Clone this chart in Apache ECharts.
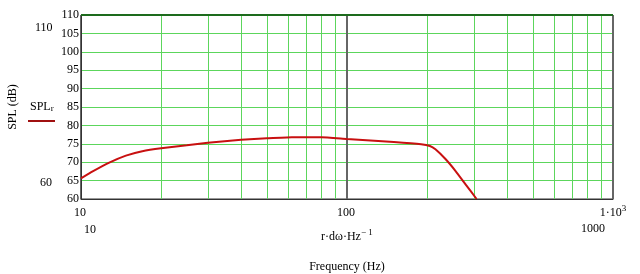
<!DOCTYPE html>
<html>
<head>
<meta charset="utf-8">
<script src="https://cdn.jsdelivr.net/npm/echarts@6/dist/echarts.min.js"></script>
<style>html,body{margin:0;padding:0;background:#fff}#c{width:640px;height:274px}</style>
</head>
<body>
<div id="c"></div>
<script>
// Data
const freqHz = [10, 11.06, 12.77, 14.75, 17, 20, 25, 30, 40, 50, 62, 80, 100, 150, 190, 205, 215, 235, 256, 279, 307];
const splDb  = [65.6, 67.5, 69.9, 71.8, 73.0, 73.8, 74.6, 75.3, 76.1, 76.5, 76.8, 76.8, 76.3, 75.5, 74.9, 74.4, 73.5, 70.8, 67.6, 64.0, 60.0];
const minorGridFreqs = [20, 30, 40, 50, 60, 70, 80, 90, 200, 300, 400, 500, 600, 700, 800, 900];
const yTicks = { min: 60, max: 110, step: 5 };
const xTopLabels = { 10: '{a|10}{s| }', 100: '{a|100}{s| }', 1000: '{a|1·10}{s|3}' };
const seriesName = 'SPL';
const seriesSub = 'r';

const FONT = 'Liberation Serif';
const chart = echarts.init(document.getElementById('c'), null, { renderer: 'canvas' });

const curve = freqHz.map((f, i) => [f, splDb[i]]);

chart.setOption({
  animation: false,
  backgroundColor: '#fff',
  grid: { left: 81, right: 27, top: 15, bottom: 75, containLabel: false, outerBoundsMode: 'none',
          show: true, borderColor: '#333', borderWidth: 1, backgroundColor: 'transparent' },
  xAxis: {
    type: 'log', logBase: 10, min: 10, max: 1000,
    name: 'Frequency (Hz)', nameLocation: 'middle', nameGap: 62,
    nameTextStyle: { fontFamily: FONT, fontSize: 12, color: '#000' },
    axisLine: { show: true, lineStyle: { color: '#333', width: 1 } },
    axisTick: { show: false },
    splitLine: { show: true, lineStyle: { color: '#666', width: 2 } },
    axisLabel: {
      fontFamily: FONT, fontSize: 12, color: '#000', margin: 5,
      formatter: v => xTopLabels[Math.round(v)] || '',
      rich: {
        a: { fontFamily: FONT, fontSize: 12, color: '#000' },
        s: { fontFamily: FONT, fontSize: 9, color: '#000', padding: [0, 0, 9, 0] }
      }
    }
  },
  yAxis: {
    type: 'value', min: yTicks.min, max: yTicks.max, interval: yTicks.step,
    name: 'SPL (dB)', nameLocation: 'middle', nameGap: 62, nameRotate: 90,
    nameTextStyle: { fontFamily: FONT, fontSize: 12, color: '#000' },
    axisLine: { show: true, lineStyle: { color: '#333', width: 1 } },
    axisTick: { show: false },
    splitLine: { show: true, lineStyle: { color: '#5cd65c', width: 1 } },
    axisLabel: { fontFamily: FONT, fontSize: 12, color: '#000', margin: 2 }
  },
  series: [
    {
      type: 'line', name: 'grid', data: [], silent: true,
      markLine: {
        silent: true, symbol: 'none', label: { show: false },
        lineStyle: { color: '#5cd65c', width: 1, type: 'solid' },
        data: minorGridFreqs.map(f => ({ xAxis: f }))
      },
      z: 1
    },
    {
      type: 'line', name: 'top', data: [], silent: true,
      markLine: {
        silent: true, symbol: 'none', label: { show: false },
        lineStyle: { color: '#1d6b1d', width: 2, type: 'solid' },
        data: [{ yAxis: yTicks.max }]
      },
      z: 2
    },
    {
      type: 'line', name: seriesName, data: curve, showSymbol: false,
      smooth: 0.15,
      lineStyle: { color: '#c81010', width: 2 }, clip: true, z: 5
    }
  ],
  graphic: [
    { type: 'text', left: 35, top: 22, style: { text: String(yTicks.max), font: '12px ' + FONT, fill: '#000' } },
    { type: 'text', left: 40, top: 177, style: { text: String(yTicks.min), font: '12px ' + FONT, fill: '#000' } },
    { type: 'text', left: 84, top: 224, style: { text: '10', font: '12px ' + FONT, fill: '#000' } },
    { type: 'text', left: 581, top: 223, style: { text: '1000', font: '12px ' + FONT, fill: '#000' } },
    { type: 'text', left: 321, top: 228, style: {
        text: '{a|r·dω·Hz}{s|− 1}', fill: '#000',
        rich: { a: { fontFamily: FONT, fontSize: 12, fill: '#000' }, s: { fontFamily: FONT, fontSize: 9, fill: '#000', padding: [0, 0, 9, 0] } }
      } },
    { type: 'text', left: 30, top: 101, style: {
        text: '{a|' + seriesName + '}{s|' + seriesSub + '}', fill: '#000',
        rich: { a: { fontFamily: FONT, fontSize: 12, fill: '#000' }, s: { fontFamily: FONT, fontSize: 9, fill: '#000', padding: [4, 0, 0, 0] } }
      } },
    { type: 'line', shape: { x1: 28, y1: 121, x2: 55, y2: 121 }, style: { stroke: '#a01010', lineWidth: 2 } }
  ]
});
</script>
</body>
</html>
